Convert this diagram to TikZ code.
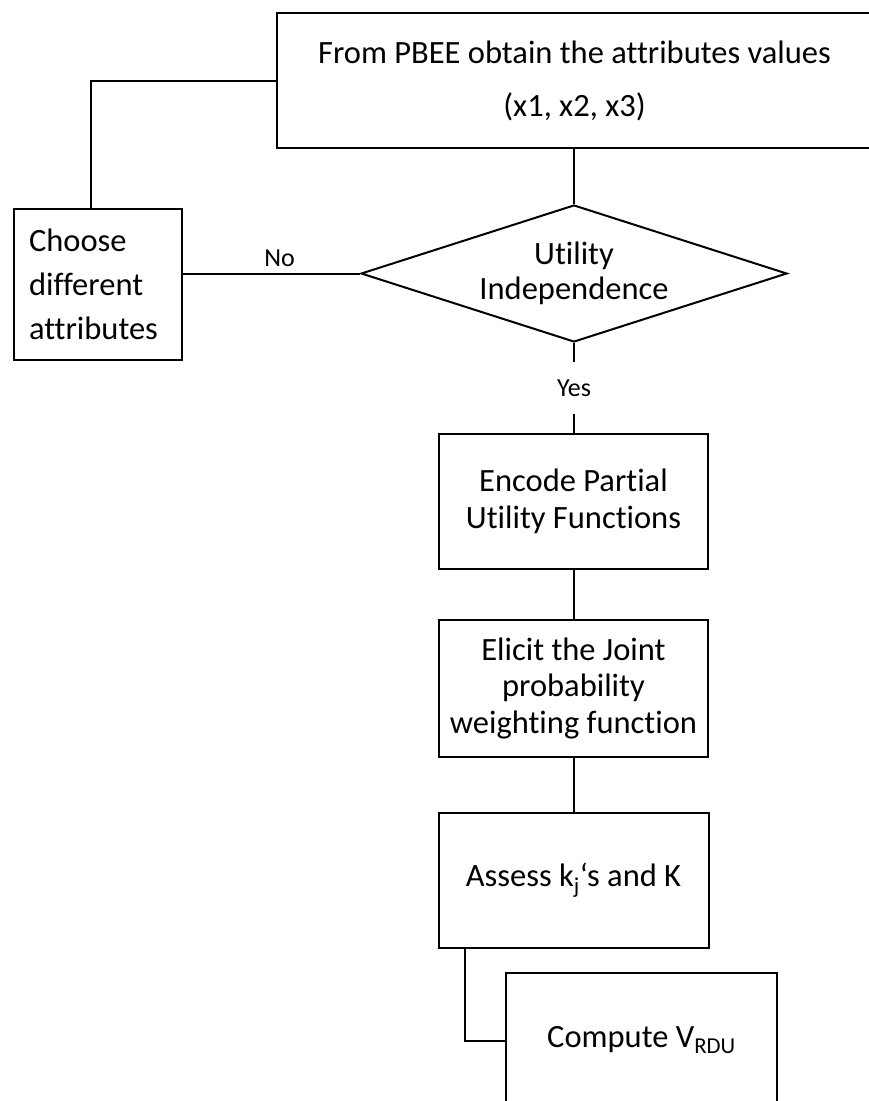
\documentclass[tikz,border=0pt]{standalone}
\usepackage{fontspec}
\setmainfont{Carlito}[Ligatures=NoCommon]
\usetikzlibrary{shapes.geometric}

\tikzset{
  block/.style={draw, align=center, inner sep=0pt, font=\fontsize{32.5}{36.5}\selectfont},
  decision/.style={draw, diamond, shape aspect=3.1, align=center, inner sep=0pt, font=\fontsize{32.5}{35}\selectfont},
  branch/.style={font=\fontsize{26}{30}\selectfont}
}

\begin{document}
\begin{tikzpicture}[x=1pt, y=-1pt, line width=2pt]
  \useasboundingbox (0,0) rectangle (869,1101);
  % Blocks
  \node[block, minimum width=595, minimum height=135, font=\fontsize{32.5}{53}\selectfont] (pbee) at (574.5,80.5)
    {From PBEE obtain the attributes values\\(x1, x2, x3)};
  \node[block, align=left, text width=138, inner xsep=15pt, minimum height=151, font=\fontsize{32.5}{44}\selectfont] (choose) at (98,284.5)
    {Choose\\different\\attributes};
  \node[decision, minimum width=426, minimum height=137] (indep) at (574,273.5) {Utility\\Independence};
  \node[block, minimum width=269, minimum height=135] (encode) at (573.5,501.5) {Encode Partial\\Utility Functions};
  \node[block, minimum width=269, minimum height=137] (elicit) at (573.5,688.5) {Elicit the Joint\\probability\\weighting function};
  \node[block, minimum width=270, minimum height=135] (assess) at (573.5,880.5) {Assess k\textsubscript{j}‘s and K};
  \node[block, minimum width=271, minimum height=135] (compute) at (641.5,1040.5) {Compute V\textsubscript{RDU}};
  % Connectors
  \draw (indep.north) -- (indep.north |- pbee.south);
  \draw (pbee.west) -| ([xshift=-7pt]choose.north);
  \draw (indep.west) -- (indep.west -| choose.east) node[branch, midway, above, inner sep=6pt, xshift=8pt] {No};
  \draw (indep.south) -- (encode.north -| indep.south) node[branch, midway, fill=white, minimum height=52pt, inner sep=0pt] {Yes};
  \draw (encode.south) -- (elicit.north);
  \draw (elicit.south) -- (assess.north);
  \draw ([xshift=27pt]assess.south west) |- (compute.west);
\end{tikzpicture}
\end{document}
